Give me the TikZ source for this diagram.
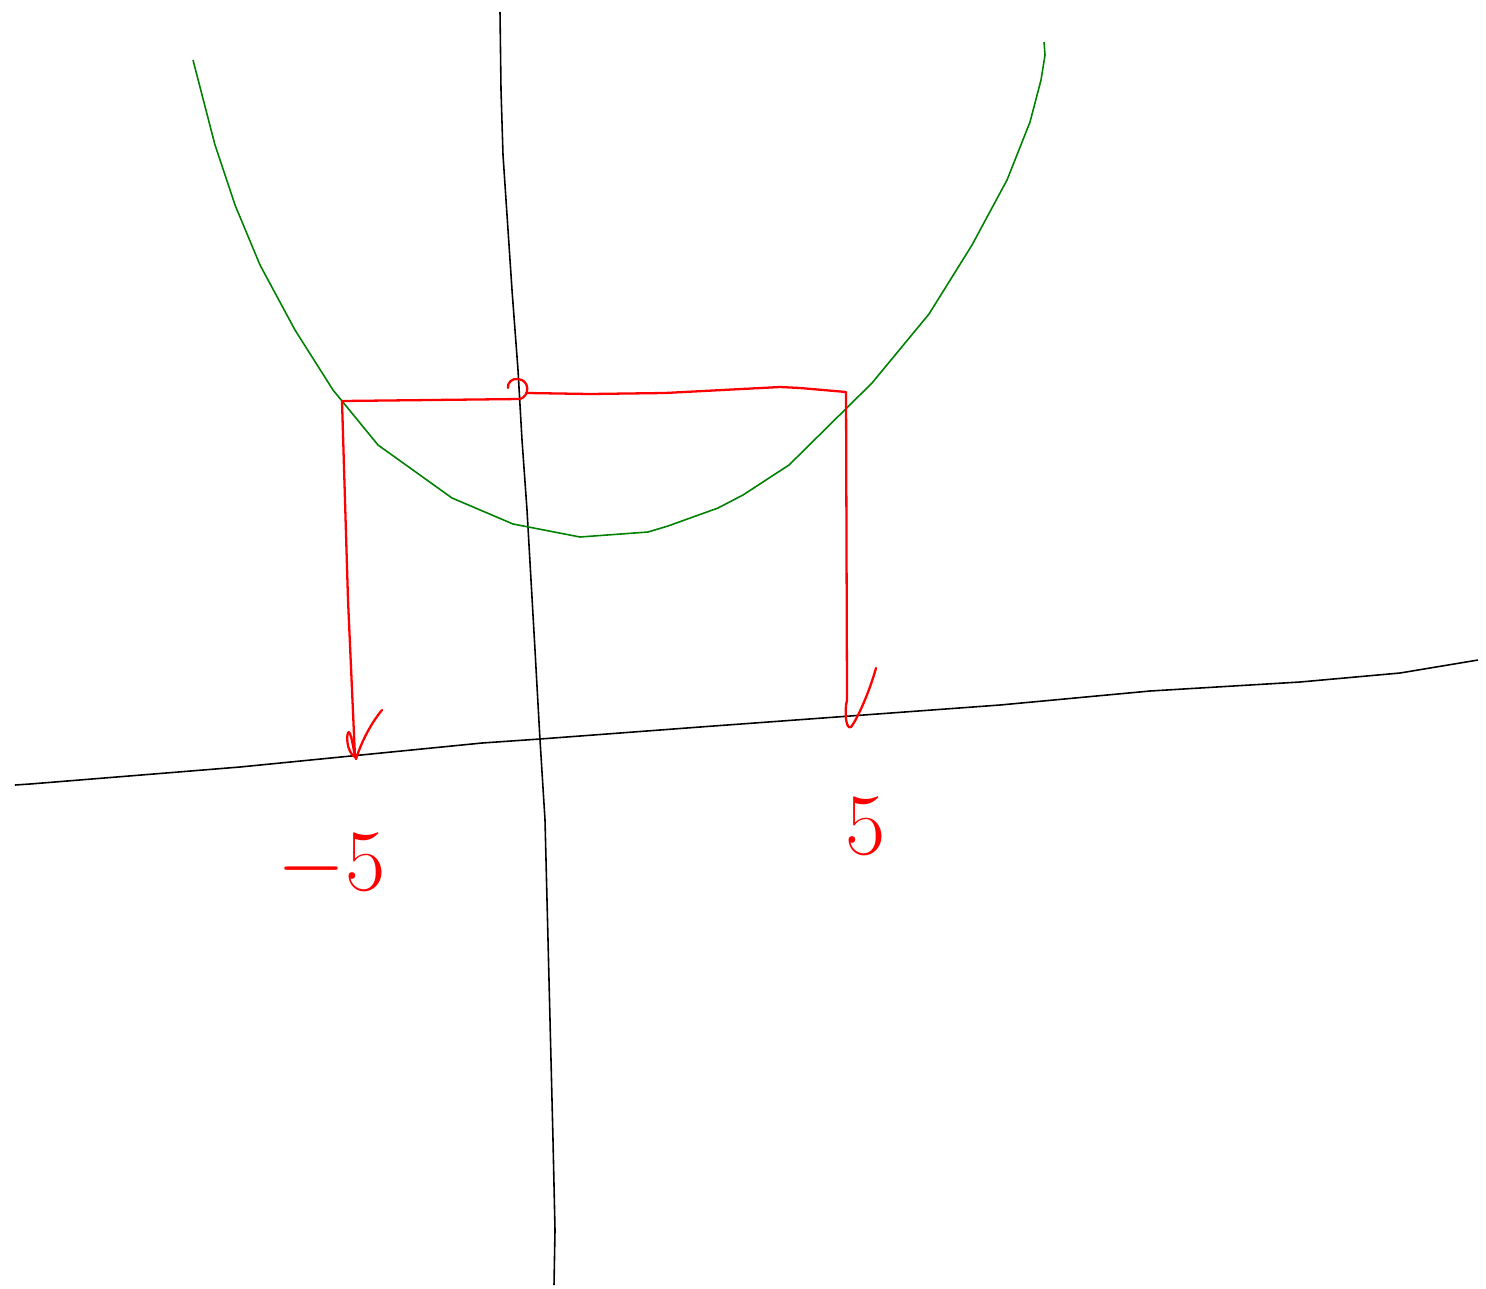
\documentclass[tikz,border=0pt]{standalone}
\tikzset{
  axis/.style={line width=0.45pt, black},
  curve/.style={line width=0.45pt, green!50!black},
  pen/.style={line width=0.65pt, red, line join=round, line cap=round},
  mark label/.style={red, font=\fontsize{30}{36}\selectfont}
}
\begin{document}
\begin{tikzpicture}[x=0.01cm,y=-0.01cm]
\useasboundingbox (0,0) rectangle (1486,1288);
% axes
\draw[axis](500,12)--(501,90)--(503,155)--(507,215)--(512,290)--(518,370)--(522,440)--(527,510)--(531,580)--(535,650)--(540,740)--(545,820)--(547,900)--(549,980)--(551,1060)--(553,1140)--(555,1230)--(554,1285);
\draw[axis](15,785)--(30,784)--(240,767)--(482,743)--(540,739)--(700,727)--(850,716)--(1000,705)--(1150,691)--(1300,682)--(1400,673)--(1478,660);
% parabola
\draw[curve](193,60)--(215,145)--(235,205)--(260,265)--(295,330)--(333,390)--(378,445)--(452,498)--(513,524)--(580,537)--(648,532)--(668,526)--(718,508)--(743,495)--(789,465)--(872,383)--(929,314)--(972,245)--(1007,180)--(1030,122)--(1041,80)--(1045,55)--(1044,42);
% level line and drops
\draw[pen](342,401)--(520,399) .. controls (530,396) and (530,380) .. (518,379) .. controls (512,378) and (507,383) .. (508,388);
\draw[pen](527,393)--(590,394)--(665,393)--(780,387)--(800,388)--(846,392)--(847,700) .. controls (844,712) and (846,730) .. (851,727) .. controls (858,718) and (870,690) .. (876,668);
\draw[pen](342,401)--(348,600)--(355,757) .. controls (346,752) and (346,732) .. (349,732) .. controls (352,735) and (354,755) .. (356,759) .. controls (362,740) and (372,722) .. (382,710);
% labels
\node[mark label](minus five) at (332,866){$-5$};
\node[mark label](five) at (866,826){$5$};
\end{tikzpicture}
\end{document}
